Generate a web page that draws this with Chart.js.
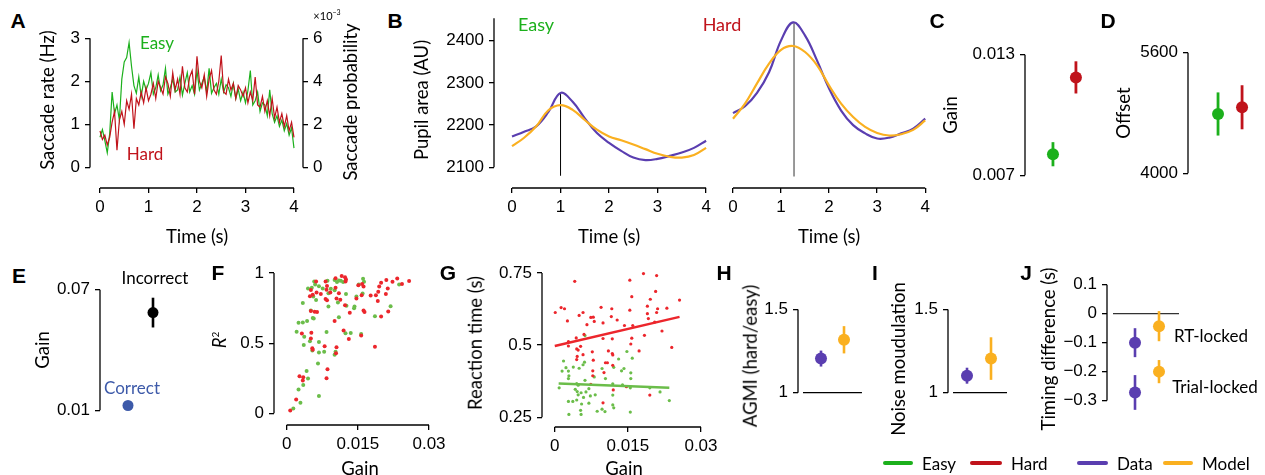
<!DOCTYPE html>
<html>
<head>
<meta charset="utf-8">
<script src="https://cdn.jsdelivr.net/npm/chart.js@4.4.1/dist/chart.umd.min.js"></script>
<style>
  body { margin: 0; background: #fff; }
  #fig { position: relative; width: 1265px; height: 475px; overflow: hidden; font-family: Lato, sans-serif; color: #000; }
  #fig canvas { position: absolute; }
  .t { position: absolute; white-space: nowrap; font-size: 17px; line-height: 1; transform: translate(-50%, -50%); }
  .ti { font-size: 18.5px; }
  .v { transform: translate(-50%, -50%) rotate(-90deg); }
  .p { position: absolute; font-family: "Liberation Sans", Arial, sans-serif; font-weight: bold; font-size: 21px; line-height: 1; transform: translate(-50%, -50%); }
  .leg { position: absolute; height: 4px; border-radius: 2px; }
</style>
</head>
<body>
<div id="fig"></div>
<script>
// A: saccade rate over time (Hz), sampled every 0.05 s
const TIME_A = [0, 0.05, 0.1, 0.15, 0.2, 0.25, 0.3, 0.35, 0.4, 0.45, 0.5, 0.55, 0.6, 0.65, 0.7, 0.75, 0.8, 0.85, 0.9, 0.95,
  1, 1.05, 1.1, 1.15, 1.2, 1.25, 1.3, 1.35, 1.4, 1.45, 1.5, 1.55, 1.6, 1.65, 1.7, 1.75, 1.8, 1.85, 1.9, 1.95,
  2, 2.05, 2.1, 2.15, 2.2, 2.25, 2.3, 2.35, 2.4, 2.45, 2.5, 2.55, 2.6, 2.65, 2.7, 2.75, 2.8, 2.85, 2.9, 2.95,
  3, 3.05, 3.1, 3.15, 3.2, 3.25, 3.3, 3.35, 3.4, 3.45, 3.5, 3.55, 3.6, 3.65, 3.7, 3.75, 3.8, 3.85, 3.9, 3.95, 4];
const RATE_EASY = [0.70, 0.88, 0.62, 0.34, 0.78, 1.75, 1.25, 1.45, 1.10, 2.05, 2.45, 2.55, 2.90, 2.35, 1.90, 1.72, 2.10, 1.65, 2.00, 1.80,
  1.95, 2.20, 1.70, 1.85, 2.15, 1.78, 1.92, 2.30, 1.70, 1.85, 2.05, 1.75, 1.80, 2.10, 1.68, 1.95, 2.20, 1.75, 1.90, 1.70,
  2.25, 1.80, 1.95, 2.10, 1.75, 2.30, 1.72, 1.85, 1.95, 1.70, 2.05, 1.75, 1.92, 1.85, 1.65, 1.95, 1.60, 1.82, 1.55, 1.75,
  1.50, 1.78, 2.25, 1.45, 1.55, 1.75, 1.30, 1.50, 1.45, 1.20, 1.80, 1.25, 1.05, 1.20, 0.95, 1.10, 0.85, 1.02, 0.75, 0.92, 0.45];
const RATE_HARD = [0.85, 0.65, 0.75, 0.52, 0.70, 1.05, 1.30, 0.40, 1.10, 1.30, 1.00, 1.55, 1.35, 1.70, 0.90, 1.60, 1.45, 1.75, 1.50, 1.85,
  1.55, 1.70, 1.95, 1.60, 2.00, 1.85, 1.70, 2.10, 1.95, 1.65, 2.20, 1.80, 2.05, 1.70, 2.35, 1.85, 1.75, 2.10, 2.25, 1.70,
  2.58, 2.00, 1.85, 2.15, 1.65, 2.05, 2.25, 1.80, 1.70, 2.00, 2.60, 1.75, 1.70, 2.05, 1.80, 1.95, 1.60, 1.90, 1.80, 1.65,
  1.85, 1.50, 1.75, 1.55, 2.10, 1.45, 1.40, 1.65, 1.30, 1.55, 1.20, 1.60, 1.15, 1.40, 1.05, 1.25, 0.95, 1.20, 0.85, 1.05, 0.70];
const TIME_TICKS = [0, 1, 2, 3, 4];
const RATE_TICKS = [0, 1, 2, 3];
const PROB_TICKS = [0, 2, 4, 6];

// B: pupil area (AU), data vs model
const TIME_B = [0, 0.25, 0.5, 0.75, 1, 1.25, 1.5, 1.75, 2, 2.25, 2.5, 2.75, 3, 3.25, 3.5, 3.75, 4];
const PUPIL_EASY_DATA = [2173, 2184, 2197, 2231, 2276, 2255, 2216, 2181, 2158, 2139, 2123, 2117, 2120, 2127, 2135, 2146, 2163];
const PUPIL_EASY_MODEL = [2150, 2170, 2197, 2235, 2247, 2236, 2212, 2189, 2173, 2164, 2154, 2143, 2132, 2125, 2123, 2129, 2146];
const PUPIL_HARD_DATA = [2225, 2241, 2272, 2320, 2394, 2436, 2405, 2347, 2282, 2231, 2197, 2178, 2166, 2168, 2178, 2189, 2212];
const PUPIL_HARD_MODEL = [2212, 2247, 2294, 2340, 2372, 2381, 2367, 2336, 2289, 2247, 2216, 2193, 2179, 2173, 2176, 2186, 2208];
const PUPIL_TICKS = [2100, 2200, 2300, 2400];
const PEAK_TIME = [1.0, 1.27];
const PEAK_PUPIL = [2276, 2436];

// C, D: easy vs hard
const GAIN_CD = [0.00805, 0.01187];
const GAIN_CD_ERR = [0.0006, 0.0008];
const OFFSET_CD = [4787, 4876];
const OFFSET_CD_ERR = [286, 292];

// E: correct vs incorrect
const GAIN_E = [0.0124, 0.0586];
const GAIN_E_ERR = [0, 0.0074];

// F: [gain, R2]
const F_EASY = [[0.0014,0.034],[0.0029,0.076],[0.0068,0.124],[0.0025,0.170],[0.0035,0.202],[0.0045,0.248],[0.0042,0.301],[0.0066,0.356],
  [0.0054,0.448],[0.0068,0.434],[0.0079,0.439],[0.0101,0.418],[0.0103,0.439],[0.0036,0.487],[0.0037,0.545],[0.0049,0.513],[0.0068,0.508],
  [0.0021,0.582],[0.0084,0.579],[0.0124,0.570],[0.0135,0.572],[0.0157,0.566],[0.0025,0.646],[0.0034,0.648],[0.0043,0.657],[0.0055,0.680],
  [0.0057,0.676],[0.0110,0.685],[0.0051,0.733],[0.0088,0.761],[0.0108,0.789],[0.0126,0.766],[0.0142,0.749],[0.0143,0.761],[0.0186,0.692],
  [0.0219,0.763],[0.0034,0.786],[0.0062,0.807],[0.0056,0.832],[0.0045,0.890],[0.0053,0.894],[0.0068,0.906],[0.0076,0.890],[0.0093,0.887],
  [0.0101,0.876],[0.0088,0.855],[0.0125,0.851],[0.0147,0.832],[0.0160,0.853],[0.0058,0.940],[0.0060,0.917],[0.0086,0.945],[0.0101,0.949],
  [0.0106,0.936],[0.0110,0.947],[0.0114,0.945],[0.0119,0.936],[0.0161,0.959],[0.0163,0.938],[0.0152,0.917],[0.0237,0.917]];
const F_HARD = [[0.00075,0.021],[0.0020,0.099],[0.0027,0.264],[0.0035,0.257],[0.0034,0.234],[0.0086,0.315],[0.0084,0.251],[0.0032,0.568],
  [0.0052,0.575],[0.0051,0.533],[0.0054,0.464],[0.0055,0.453],[0.0080,0.478],[0.0105,0.471],[0.0104,0.428],[0.0101,0.657],[0.0120,0.591],
  [0.0131,0.529],[0.0157,0.554],[0.0186,0.474],[0.0051,0.729],[0.0059,0.724],[0.0064,0.722],[0.0133,0.717],[0.0162,0.733],[0.0164,0.722],
  [0.0199,0.690],[0.0214,0.726],[0.0123,0.770],[0.0105,0.818],[0.0113,0.809],[0.0082,0.814],[0.0085,0.805],[0.0072,0.851],[0.0063,0.860],
  [0.0055,0.844],[0.0049,0.834],[0.0051,0.878],[0.0062,0.940],[0.0082,0.940],[0.0085,0.908],[0.0084,0.880],[0.0092,0.860],[0.0103,0.894],
  [0.0103,0.963],[0.0116,0.979],[0.0123,0.970],[0.0125,0.954],[0.0124,0.940],[0.0110,0.855],[0.0147,0.818],[0.0151,0.913],[0.0159,0.922],
  [0.0162,0.903],[0.0158,0.841],[0.0177,0.839],[0.0188,0.841],[0.0193,0.867],[0.0192,0.800],[0.0195,0.903],[0.0199,0.931],[0.0210,0.949],
  [0.0223,0.938],[0.0233,0.961],[0.0243,0.922],[0.0258,0.943],[0.0213,0.890],[0.0209,0.851]];
const GAIN_TICKS = [0, 0.015, 0.03];
const R2_TICKS = [0, 0.5, 1];

// G: [gain, reaction time (s)]
const G_EASY = [[0.0062,0.533],[0.0018,0.445],[0.0023,0.422],[0.0015,0.410],[0.0028,0.410],[0.0029,0.394],[0.0028,0.384],[0.0038,0.424],
  [0.0050,0.420],[0.0058,0.432],[0.0061,0.441],[0.0062,0.378],[0.0081,0.390],[0.0097,0.419],[0.0104,0.384],[0.0121,0.423],[0.0131,0.452],
  [0.0148,0.478],[0.0159,0.455],[0.0137,0.411],[0.0142,0.419],[0.0156,0.404],[0.0156,0.384],[0.0045,0.367],[0.0048,0.361],[0.0009,0.352],
  [0.0042,0.347],[0.0046,0.339],[0.0054,0.335],[0.0048,0.328],[0.0064,0.338],[0.0070,0.349],[0.0073,0.324],[0.0083,0.328],[0.0059,0.319],
  [0.0045,0.310],[0.0028,0.305],[0.0037,0.305],[0.0055,0.296],[0.0070,0.299],[0.0119,0.293],[0.0121,0.283],[0.0119,0.327],[0.0155,0.352],
  [0.0195,0.352],[0.0216,0.338],[0.0235,0.308],[0.0029,0.260],[0.0053,0.274],[0.0054,0.260],[0.0087,0.271],[0.0097,0.278],[0.0103,0.270],
  [0.0155,0.268],[0.0119,0.366],[0.0139,0.362]];
const G_HARD = [[0.0041,0.721],[0.0154,0.725],[0.0182,0.748],[0.0209,0.741],[0.0207,0.686],[0.0158,0.668],[0.0196,0.659],[0.0256,0.656],
  [0.0190,0.635],[0.0211,0.626],[0.0209,0.613],[0.0230,0.628],[0.0154,0.621],[0.0117,0.626],[0.0095,0.631],[0.0013,0.630],[0.0020,0.626],
  [0.0001,0.613],[0.0050,0.603],[0.0058,0.613],[0.0074,0.596],[0.0079,0.597],[0.0081,0.582],[0.0116,0.599],[0.0128,0.587],[0.0099,0.577],
  [0.0066,0.571],[0.0026,0.584],[0.0160,0.568],[0.0143,0.568],[0.0190,0.609],[0.0192,0.592],[0.0205,0.580],[0.0220,0.549],[0.0184,0.534],
  [0.0158,0.524],[0.0156,0.504],[0.0099,0.523],[0.0118,0.522],[0.0044,0.525],[0.0060,0.537],[0.0028,0.512],[0.0028,0.497],[0.0053,0.496],
  [0.0045,0.487],[0.0048,0.483],[0.0173,0.480],[0.0240,0.492],[0.0110,0.480],[0.0118,0.471],[0.0119,0.466],[0.0077,0.477],[0.0058,0.467],
  [0.0046,0.461],[0.0045,0.450],[0.0079,0.448],[0.0104,0.439],[0.0108,0.439],[0.0119,0.430],[0.0101,0.405],[0.0078,0.411],[0.0078,0.394],
  [0.0074,0.364],[0.0147,0.356],[0.0120,0.345],[0.0195,0.327],[0.0099,0.300]];
const G_FIT_EASY = [[0.0008, 0.367], [0.0235, 0.352]];
const G_FIT_HARD = [[0.0, 0.497], [0.0256, 0.598]];
const RT_TICKS = [0.25, 0.5, 0.75];

// H, I, J: data vs model
const AGMI = [1.205, 1.318];
const AGMI_ERR = [0.048, 0.082];
const NOISE_MOD = [1.102, 1.205];
const NOISE_MOD_ERR = [0.048, 0.128];
const MOD_TICKS = [1, 1.5];
const TIMING_RT = [-0.10, -0.043];
const TIMING_RT_ERR = [0.05, 0.052];
const TIMING_TRIAL = [-0.272, -0.20];
const TIMING_TRIAL_ERR = [0.06, 0.04];
const TIMING_TICKS = [-0.3, -0.2, -0.1, 0, 0.1];

const GREEN = '#1cb01c', RED = '#c0131b', PURPLE = '#5a3eb0', ORANGE = '#fab020', BLUE = '#3d5aa9';
const SC_RED = '#ec262c', SC_GREEN = '#6bbd4a';

const fig = document.getElementById('fig');

// axis lines drawn only between given values, like detached spines
Chart.register({
  id: 'spines',
  afterDraw(chart, args, opts) {
    const ctx = chart.ctx;
    ctx.save();
    ctx.strokeStyle = '#000';
    ctx.lineWidth = 1.3;
    (opts.list || []).forEach(([id, a, b]) => {
      const s = chart.scales[id];
      const p1 = s.getPixelForValue(a), p2 = s.getPixelForValue(b);
      ctx.beginPath();
      if (s.isHorizontal()) { ctx.moveTo(p1, s.top); ctx.lineTo(p2, s.top); }
      else if (s.position === 'left') { ctx.moveTo(s.right, p1); ctx.lineTo(s.right, p2); }
      else { ctx.moveTo(s.left, p1); ctx.lineTo(s.left, p2); }
      ctx.stroke();
    });
    ctx.restore();
  }
});

function axis(pos, min, max, ticks) {
  const cfg = { type: 'linear', position: pos, min: min, max: max, bounds: 'data', display: !!ticks };
  if (ticks) {
    cfg.afterBuildTicks = s => { s.ticks = ticks.map(v => ({ value: v })); };
    cfg.grid = { drawOnChartArea: false, tickLength: 5, color: '#000', lineWidth: 1.3 };
    cfg.border = { display: false };
    cfg.ticks = { padding: pos === 'bottom' ? 4 : 5, font: { size: 17 }, color: '#000', maxRotation: 0, autoSkip: false,
      callback: v => String(v).replace('-', '\u2212') };
  }
  return cfg;
}

function plot(area, margin, datasets, scales, spineList) {
  const [l, t, r, b] = area, [ml, mt, mr, mb] = margin;
  const cv = document.createElement('canvas');
  cv.width = r - l + ml + mr;
  cv.height = b - t + mt + mb;
  cv.style.left = (l - ml) + 'px';
  cv.style.top = (t - mt) + 'px';
  fig.appendChild(cv);
  const hasX = scales.x.display, hasY = scales.y.display, hasY2 = !!(scales.y2 && scales.y2.display);
  if (hasX) scales.x.afterFit = s => { s.height = mb; };
  if (hasY) scales.y.afterFit = s => { s.width = ml; };
  if (hasY2) scales.y2.afterFit = s => { s.width = mr; };
  return new Chart(cv, {
    type: 'scatter',
    data: { datasets: datasets },
    options: {
      responsive: false, animation: false, devicePixelRatio: 1,
      layout: { autoPadding: false, padding: { left: hasY ? 0 : ml, top: mt, right: hasY2 ? 0 : mr, bottom: hasX ? 0 : mb } },
      plugins: { legend: { display: false }, tooltip: { enabled: false }, spines: { list: spineList } },
      scales: scales
    }
  });
}

function line(xs, ys, color, width, order, tension) {
  return { type: 'line', data: xs.map((x, i) => ({ x: x, y: ys[i] })), borderColor: color, borderWidth: width,
    pointRadius: 0, tension: tension || 0, fill: false, order: order, clip: false };
}
function dots(pairs, color, r, order) {
  return { data: pairs.map(p => ({ x: p[0], y: p[1] })), backgroundColor: color, borderWidth: 0, pointRadius: r, order: order };
}
// mean markers with vertical error bars
function means(vals, errs, color, r, w, xs) {
  const out = [];
  vals.forEach((v, i) => {
    const x = xs ? xs[i] : i + 1;
    out.push(dots([[x, v]], Array.isArray(color) ? color[i] : color, r, 0));
    if (errs[i] > 0) out.push(line([x, x], [v - errs[i], v + errs[i]], Array.isArray(color) ? color[i] : color, w, 1));
  });
  return out;
}

// A
plot([90, 35, 303, 188], [62, 12, 70, 62], [
  line(TIME_A, RATE_HARD, RED, 1.2, 0),
  line(TIME_A, RATE_EASY, GREEN, 1.2, 1)
], {
  x: axis('bottom', -0.206, 4.186, TIME_TICKS),
  y: axis('left', -0.477, 3.0, RATE_TICKS),
  y2: axis('right', -0.954, 6, PROB_TICKS)
}, [['x', 0, 4], ['y', 0, 3], ['y2', 0, 6]]);

// B easy / hard
plot([494, 15, 710, 188], [70, 12, 12, 62], [
  line(TIME_B, PUPIL_EASY_DATA, PURPLE, 2.2, 1, 0.4),
  line(TIME_B, PUPIL_EASY_MODEL, ORANGE, 2.2, 0, 0.4),
  line([PEAK_TIME[0], PEAK_TIME[0]], [2080, PEAK_PUPIL[0]], '#000', 1, 2)
], {
  x: axis('bottom', -0.371, 4.08, TIME_TICKS),
  y: axis('left', 2051, 2453, PUPIL_TICKS)
}, [['x', 0, 4], ['y', 2100, 2453]]);

plot([727, 15, 930, 188], [10, 12, 12, 62], [
  line(TIME_B, PUPIL_HARD_DATA, PURPLE, 2.2, 1, 0.4),
  line(TIME_B, PUPIL_HARD_MODEL, ORANGE, 2.2, 0, 0.4),
  line([PEAK_TIME[1], PEAK_TIME[1]], [2078, PEAK_PUPIL[1]], '#808080', 1.6, 2)
], {
  x: axis('bottom', -0.125, 4.1, TIME_TICKS),
  y: axis('left', 2051, 2453, null)
}, [['x', 0, 4]]);

// C
plot([1025, 40, 1095, 190], [70, 12, 10, 12], means(GAIN_CD, GAIN_CD_ERR, [GREEN, RED], 6, 2.8), {
  x: axis('bottom', -0.217, 2.83, null),
  y: axis('left', 0.00643, 0.01357, [0.007, 0.013])
}, [['y', 0.007, 0.013]]);

// D
plot([1188, 38, 1262, 188], [75, 12, 3, 12], means(OFFSET_CD, OFFSET_CD_ERR, [GREEN, RED], 6, 2.8), {
  x: axis('bottom', -0.25, 2.83, null),
  y: axis('left', 3848, 5752, [4000, 5600])
}, [['y', 4000, 5600]]);

// E
plot([100, 275, 190, 425], [70, 12, 10, 12], means(GAIN_E, GAIN_E_ERR, [BLUE, '#000'], 5.5, 2.6), {
  x: axis('bottom', -0.12, 3.48, null),
  y: axis('left', 0.00429, 0.0757, [0.01, 0.07])
}, [['y', 0.01, 0.07]]);

// F
plot([274, 262, 440, 425], [50, 10, 10, 45], [
  dots(F_HARD, SC_RED, 2, 0),
  dots(F_EASY, SC_GREEN, 2, 1)
], {
  x: axis('bottom', -0.00267, 0.03144, GAIN_TICKS),
  y: axis('left', -0.0828, 1.041, R2_TICKS)
}, [['x', 0, 0.03], ['y', 0, 1]]);

// G
plot([542, 262, 712, 427], [50, 10, 10, 45], [
  line(G_FIT_HARD.map(p => p[0]), G_FIT_HARD.map(p => p[1]), SC_RED, 2.5, 0),
  line(G_FIT_EASY.map(p => p[0]), G_FIT_EASY.map(p => p[1]), SC_GREEN, 2.5, 1),
  dots(G_HARD, SC_RED, 1.6, 2),
  dots(G_EASY, SC_GREEN, 1.6, 3)
], {
  x: axis('bottom', -0.00262, 0.0316, GAIN_TICKS),
  y: axis('left', 0.2164, 0.770, RT_TICKS)
}, [['x', 0, 0.03], ['y', 0.25, 0.75]]);

// H
plot([798, 295, 870, 410], [40, 12, 5, 12], means(AGMI, AGMI_ERR, [PURPLE, ORANGE], 6, 2.6).concat([
  line([0.217, 2.78], [1, 1], '#000', 1.3, 2)
]), {
  x: axis('bottom', 0, 3.13, null),
  y: axis('left', 0.915, 1.568, MOD_TICKS)
}, [['y', 1, 1.5]]);

// I
plot([948, 295, 1015, 410], [40, 12, 5, 12], means(NOISE_MOD, NOISE_MOD_ERR, [PURPLE, ORANGE], 6, 2.6).concat([
  line([0.417, 2.667], [1, 1], '#000', 1.3, 2)
]), {
  x: axis('bottom', 0.208, 3, null),
  y: axis('left', 0.915, 1.568, MOD_TICKS)
}, [['y', 1, 1.5]]);

// J
plot([1107, 272, 1185, 420], [50, 12, 5, 12],
  means(TIMING_RT, TIMING_RT_ERR, [PURPLE, ORANGE], 6, 2.6)
    .concat(means(TIMING_TRIAL, TIMING_TRIAL_ERR, [PURPLE, ORANGE], 6, 2.6))
    .concat([line([0.083, 2.833], [0, 0], '#333', 1.3, 2)]), {
  x: axis('bottom', -0.167, 3.083, null),
  y: axis('left', -0.356, 0.133, TIMING_TICKS)
}, [['y', -0.3, 0.1]]);

// text
function text(s, x, y, cls, style) {
  const d = document.createElement('div');
  d.className = cls || 't';
  d.innerHTML = s;
  d.style.left = x + 'px';
  d.style.top = y + 'px';
  if (style) Object.assign(d.style, style);
  fig.appendChild(d);
}
[['A', 18, 20], ['B', 395, 20], ['C', 937, 20], ['D', 1108, 20],
 ['E', 19, 275], ['F', 218, 272], ['G', 448, 272], ['H', 724, 272], ['I', 875, 272], ['J', 1026, 272]]
  .forEach(p => text(p[0], p[1], p[2], 'p'));

text('Saccade rate (Hz)', 47, 100, 't ti v');
text('Saccade probability', 350, 102, 't ti v');
text('\u00d710<sup style="font-size:7px">\u22123</sup>', 327, 15, 't', { fontSize: '11px' });
text('Easy', 157, 42, 't', { color: GREEN });
text('Hard', 145, 153, 't', { color: RED });
text('Time (s)', 197, 236, 't ti');
text('Pupil area (AU)', 421, 100, 't ti v');
text('Easy', 536, 24, 't', { color: GREEN, fontSize: '18px' });
text('Hard', 722, 24, 't', { color: RED, fontSize: '18px' });
text('Time (s)', 609, 236, 't ti');
text('Time (s)', 829, 236, 't ti');
text('Gain', 950, 115, 't ti v');
text('Offset', 1123, 113, 't ti v');
text('Gain', 42, 350, 't ti v');
text('Incorrect', 155, 277);
text('Correct', 132, 387, 't', { color: BLUE });
text('<i>R</i><sup style="font-size:10px">2</sup>', 219, 340, 't ti v');
text('Gain', 360, 468, 't ti');
text('Reaction time (s)', 475, 343, 't ti v');
text('Gain', 624, 468, 't ti');
text('AGMI (hard/easy)', 750, 356, 't ti v');
text('Noise moudulation', 898, 359, 't ti v');
text('Timing difference (s)', 1048, 349, 't ti v');
text('RT-locked', 1211, 335);
text('Trial-locked', 1215, 386);

[[883, 913, GREEN, 'Easy'], [970, 1002, RED, 'Hard'], [1077, 1108, PURPLE, 'Data'], [1163, 1193, ORANGE, 'Model']]
  .forEach(e => {
    const d = document.createElement('div');
    d.className = 'leg';
    Object.assign(d.style, { left: e[0] + 'px', width: (e[1] - e[0]) + 'px', top: '461px', background: e[2] });
    fig.appendChild(d);
    text(e[3], e[1] + 9, 463, 't', { transform: 'translate(0, -50%)' });
  });
</script>
</body>
</html>
